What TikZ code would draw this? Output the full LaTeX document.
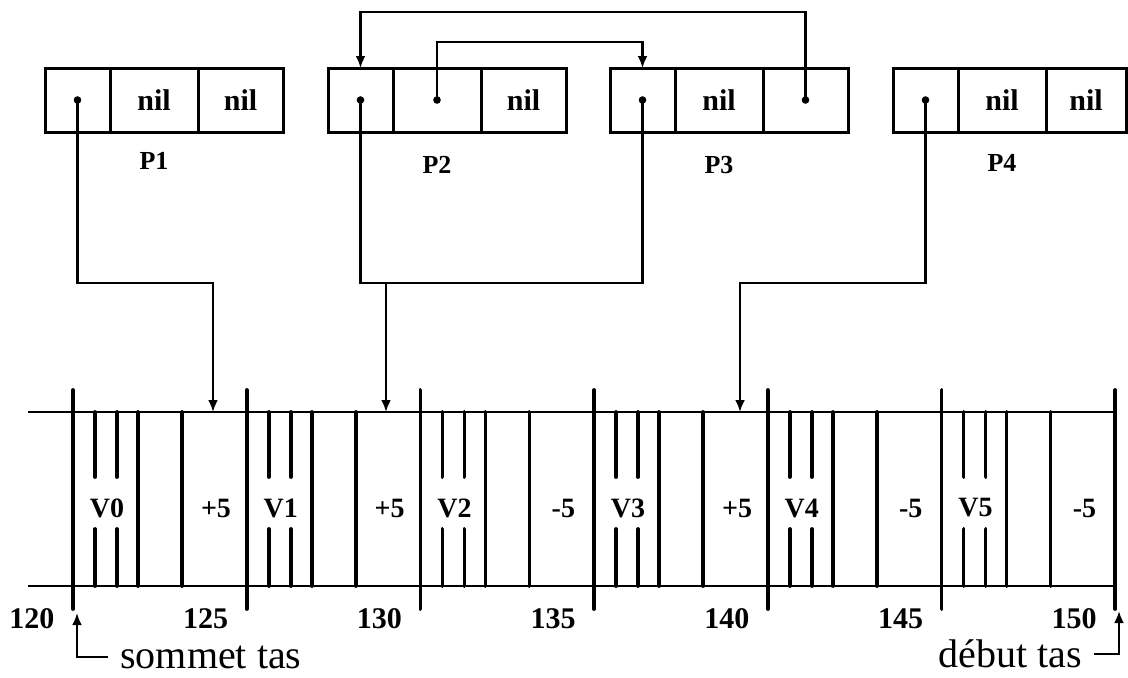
\documentclass[tikz,border=0pt]{standalone}
\usepackage{fontspec}
\setmainfont{Liberation Serif}
\usetikzlibrary{positioning,arrows.meta}

\begin{document}
\begin{tikzpicture}[x=0.5pt, y=-0.5pt,
    every node/.style={inner sep=0pt},
    cell/.style={draw, line width=1.5pt, outer sep=0pt, minimum height=32pt,
      font=\bfseries\fontsize{15}{17}\selectfont},
    lbl/.style={font=\bfseries\fontsize{13}{15}\selectfont},
    val/.style={font=\bfseries\fontsize{14}{16}\selectfont},
    num/.style={font=\bfseries\fontsize{15}{17}\selectfont},
    note/.style={font=\fontsize{20}{24}\selectfont, inner xsep=6pt, inner ysep=0pt},
    bar/.style={line width=1.9pt, line cap=round},
    rail/.style={line width=1.2pt},
    link/.style={line width=1.4pt},
    ptr/.style={link, -{Latex[length=6pt,width=5pt]}}]
  \useasboundingbox (0,0) rectangle (1128,677);
  % les paires P1 .. P4
  \node[cell, minimum width=32.5pt] (p1a) at (77.5,100) {};
  \node[cell, minimum width=44pt, right=0pt of p1a] (p1b) {nil};
  \node[cell, minimum width=42.5pt, right=0pt of p1b] (p1c) {nil};
  \node[cell, minimum width=32.5pt] (p2a) at (360.5,100) {};
  \node[cell, minimum width=44pt, right=0pt of p2a] (p2b) {};
  \node[cell, minimum width=42.5pt, right=0pt of p2b] (p2c) {nil};
  \node[cell, minimum width=32.5pt] (p3a) at (642.5,100) {};
  \node[cell, minimum width=44pt, right=0pt of p3a] (p3b) {nil};
  \node[cell, minimum width=42.5pt, right=0pt of p3b] (p3c) {};
  \node[cell, minimum width=32.5pt] (p4a) at (925.5,100) {};
  \node[cell, minimum width=44pt, right=0pt of p4a] (p4b) {nil};
  \node[cell, minimum width=40pt, right=0pt of p4b] (p4c) {nil};
  \node[lbl, below=10pt of p1b] (l1) {P1};
  \node[lbl, below=12pt of p2b] (l2) {P2};
  \node[lbl, below=12pt of p3b] (l3) {P3};
  \node[lbl, below=11pt of p4b] (l4) {P4};
  \foreach \c in {p1a,p2a,p2b,p3a,p3c,p4a}
    \fill (\c.center) circle[radius=1.9pt];
  % points de passage
  \coordinate (row) at (0,283);
  \coordinate (top1) at (0,12);
  \coordinate (top2) at (0,42);
  \coordinate (t1) at (213,412);
  \coordinate (t2) at (386,412);
  \coordinate (t3) at (740,412);
  \draw[ptr] (p1a.center) |- (t1 |- row) -- (t1);
  \draw[link] (p2a.center) |- (p3a.center |- row) -- (p3a.center);
  \draw[ptr] (t2 |- row) -- (t2);
  \draw[ptr] (p4a.center) |- (t3 |- row) -- (t3);
  \draw[ptr] (p2b.center) |- (p3a.north |- top2) -- (p3a.north);
  \draw[ptr] (p3c.center) |- (p2a.north |- top1) -- (p2a.north);
  % le tas
  \draw[rail] (28,412) -- (1115,412);
  \draw[rail] (28,586) -- (1115,586);
  \foreach \k in {0,...,6}
    \draw[bar] ({73+173.7*\k},390) -- ++(0,219);
  \foreach \k/\v/\s in {0/V0/+5,1/V1/+5,2/V2/-5,3/V3/+5,4/V4/-5,5/V5/-5} {
    \pgfmathsetmacro{\x}{73+173.7*\k}
    \draw[bar] ({\x+22},412) -- ++(0,65) ({\x+44},412) -- ++(0,65);
    \draw[bar] ({\x+22},529) -- ({\x+22},586) ({\x+44},529) -- ({\x+44},586);
    \draw[bar] ({\x+65},412) -- ({\x+65},586) ({\x+109},412) -- ({\x+109},586);
    \node[val] (v\k) at ({\x+34},508) {\v};
    \node[val] (s\k) at ({\x+143},508) {\s};
  }
  \foreach \k/\n in {0/120,1/125,2/130,3/135,4/140,5/145,6/150}
    \node[num] (n\k) at ({73+173.7*\k-41},619) {\n};
  % sommet et debut
  \coordinate (c120) at (77,613);
  \coordinate (c150) at (1119,611);
  \node[note, anchor=west] (sommet) at (108,657) {sommet tas};
  \node[note, anchor=east] (debut) at (1094,654) {début tas};
  \draw[ptr] (sommet.west) -| (c120);
  \draw[ptr] (debut.east) -| (c150);
\end{tikzpicture}
\end{document}
